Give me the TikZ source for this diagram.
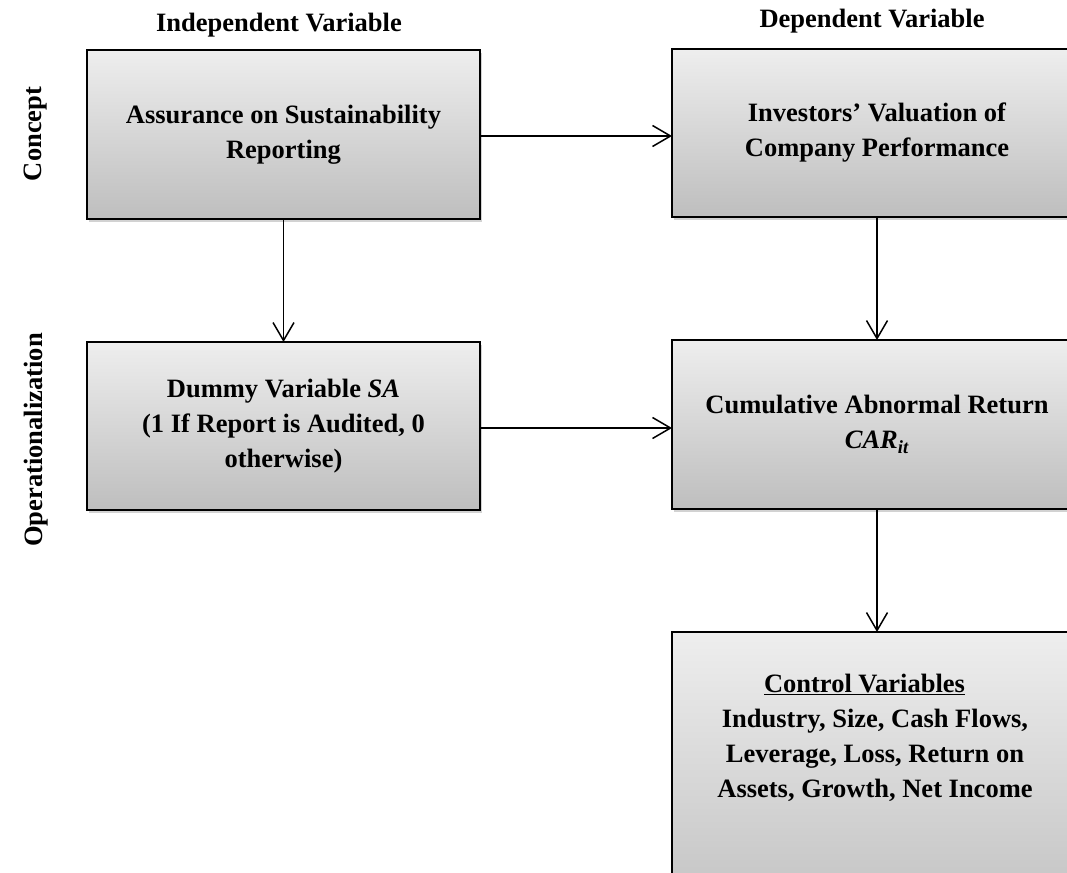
\documentclass[tikz,border=0pt]{standalone}
\usepackage{fontspec}
\setmainfont{Liberation Serif}
\usetikzlibrary{arrows.meta,shadows}
\definecolor{boxtop}{HTML}{EEEEEE}
\definecolor{boxbot}{HTML}{BEBEBE}
\begin{document}
\begin{tikzpicture}[x=1pt,y=-1pt,
  box/.style={draw=black, line width=2pt, top color=boxtop, bottom color=boxbot,
    drop shadow={shadow xshift=2pt, shadow yshift=-3pt, opacity=0.35},
    inner sep=0pt, outer sep=0pt, align=center,
    font=\fontsize{26.5}{35}\selectfont\bfseries},
  lbl/.style={font=\fontsize{26.5}{35}\selectfont\bfseries, align=center, inner sep=0pt},
  arr/.style={line width=1.5pt, -{Straight Barb[length=18pt,width=21pt,line width=1.5pt]}}]
\fill[white] (0,0) rectangle (1067,872);
\clip (0,0) rectangle (1067,872);

\node[lbl] (hIndep) at (279,25) {Independent Variable};
\node[lbl] (hDep) at (872,21) {Dependent Variable};
\node[lbl, rotate=90] (rConcept) at (36,134) {Concept};
\node[lbl, rotate=90] (rOper) at (36,440) {Operationalization};

\node[box, minimum width=393pt, minimum height=169pt] (b1) at (283.5,134.5)
  {Assurance on Sustainability\\Reporting};
\node[box, minimum width=410pt, minimum height=168pt] (b2) at (877,133)
  {Investors’ Valuation of\\Company Performance};
\node[box, minimum width=393pt, minimum height=168pt] (b3) at (283.5,426)
  {Dummy Variable \textit{SA}\\(1 If Report is Audited, 0\\otherwise)};
\node[box, minimum width=410pt, minimum height=169pt] (b4) at (877,424.5)
  {Cumulative Abnormal Return\\\textit{CAR}\textsubscript{\textit{it}}};
\node[box, minimum width=410pt, minimum height=308pt] (b5) at (877,786) {};
\node[lbl] (t5) at (875,738)
  {\underline{Control Variables}\hspace*{21pt}\\Industry, Size, Cash Flows,\\Leverage, Loss, Return on\\Assets, Growth, Net Income};

\draw[arr] (b1.east |- 0,136) -- (b2.west |- 0,136);
\draw[arr] (b1.south) -- (b3.north);
\draw[arr] (b2.south) -- (b4.north);
\draw[arr] (b3.east |- 0,428) -- (b4.west |- 0,428);
\draw[arr] (b4.south) -- (b5.north);
\end{tikzpicture}
\end{document}
